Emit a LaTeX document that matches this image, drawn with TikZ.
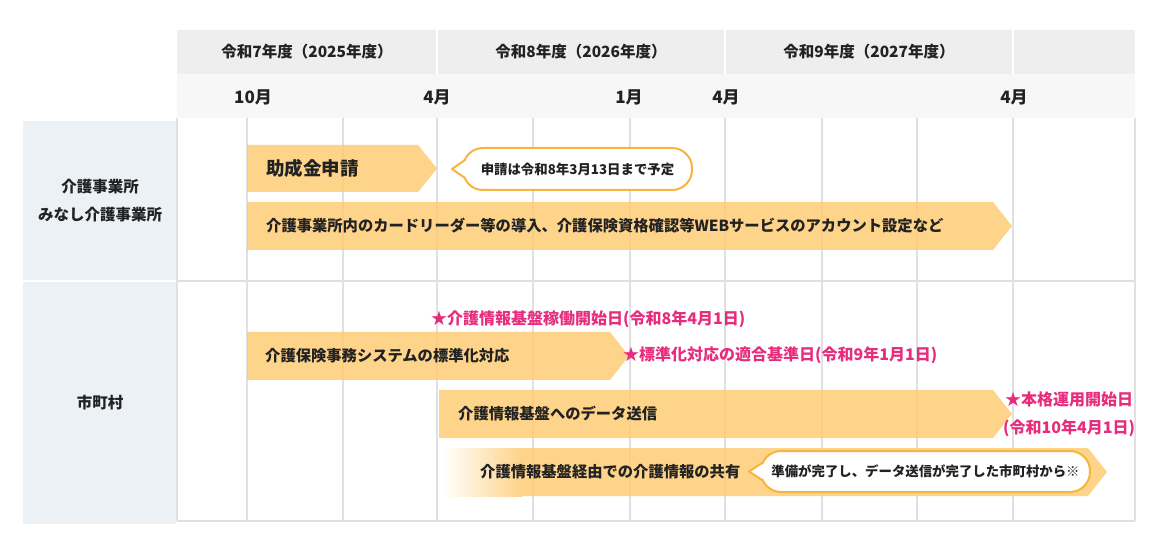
\documentclass[tikz,border=0pt]{standalone}
\usepackage{fontspec}
\setmainfont{Noto Sans CJK JP}
\usetikzlibrary{calc}
\definecolor{barfill}{RGB}{254,203,117}
\definecolor{barsolid}{RGB}{254,211,138}
\definecolor{bubbleline}{RGB}{248,180,64}
\definecolor{goalpink}{RGB}{230,45,125}
\definecolor{gridgray}{RGB}{224,224,224}
\definecolor{yearbg}{RGB}{238,238,238}
\definecolor{monthbg}{RGB}{247,247,247}
\definecolor{sidebg}{RGB}{236,241,246}
\definecolor{ink}{RGB}{34,34,34}
\begin{document}
\begin{tikzpicture}[x=1pt,y=-1pt,
    every node/.style={text=ink},
    hdr/.style={font=\bfseries\fontsize{15.5}{17}\selectfont},
    mon/.style={font=\bfseries\fontsize{17}{18}\selectfont},
    side/.style={align=center,font=\bfseries\fontsize{15.5}{28}\selectfont},
    gridline/.style={draw=gridgray,line width=1.8pt},
    bar/.style={fill=barfill,fill opacity=0.85},
    bartext/.style={anchor=west,inner sep=0pt,font=\bfseries\fontsize{15.3}{17}\selectfont},
    bubble/.style={draw=bubbleline,line width=2pt,fill=white,rounded corners=20pt,inner sep=0pt,
        font=\bfseries\fontsize{13.4}{15}\selectfont},
    goal/.style={anchor=west,inner sep=0pt,text=goalpink,font=\bfseries\fontsize{16}{18}\selectfont}]
    \useasboundingbox (0,0) rectangle (1160,553);
    % header rows
    \fill[yearbg] (177,30) rectangle (1135,74);
    \fill[monthbg] (177,74) rectangle (1135,118);
    \draw[white,line width=1.5pt] (437,30) -- (437,74) (725,30) -- (725,74) (1013,30) -- (1013,74);
    \node[hdr] (y7) at (307,52) {令和7年度（2025年度）};
    \node[hdr] (y8) at (581,52) {令和8年度（2026年度）};
    \node[hdr] (y9) at (869,52) {令和9年度（2027年度）};
    \node[mon] (m10) at (253,97) {10月};
    \node[mon] (m4a) at (437,97) {4月};
    \node[mon] (m1) at (629,97) {1月};
    \node[mon] (m4b) at (726,97) {4月};
    \node[mon] (m4c) at (1014,97) {4月};
    % side labels
    \fill[sidebg] (23,121) rectangle (176,280);
    \fill[sidebg] (23,282) rectangle (176,524);
    \node[side] (jigyo) at (100,201) {介護事業所\\みなし介護事業所};
    \node[side] (shi) at (100,403) {市町村};
    % grid
    \draw[gridline] (177,118) -- (177,521) (247,118) -- (247,521) (343,118) -- (343,521)
        (437,118) -- (437,521) (533,118) -- (533,521) (630,118) -- (630,521)
        (725,118) -- (725,521) (822,118) -- (822,521) (917,118) -- (917,521)
        (1013,118) -- (1013,521) (1135,118) -- (1135,521);
    \draw[gridline] (177,281) -- (1135,281) (177,521) -- (1135,521);
    % bars
    \fill[bar] (247,145) -- (418,145) -- (437,168.5) -- (418,192) -- (247,192) -- cycle;
    \fill[bar] (247,202) -- (993,202) -- (1012,226) -- (993,250) -- (247,250) -- cycle;
    \fill[bar] (247,332) -- (610,332) -- (629,356) -- (610,380) -- (247,380) -- cycle;
    \fill[bar] (439,390) -- (993,390) -- (1012,414) -- (993,438) -- (439,438) -- cycle;
    \shade[left color=white,right color=barsolid] (442,448) rectangle (522,496);
    \fill[bar] (522,448) -- (1088,448) -- (1107,472) -- (1088,496) -- (522,496) -- cycle;
    \node[bartext,font=\bfseries\fontsize{18.5}{20}\selectfont] (josei) at (266,168.5) {助成金申請};
    \node[bartext] (dounyu) at (266,226) {介護事業所内のカードリーダー等の導入、介護保険資格確認等WEBサービスのアカウント設定など};
    \node[bartext] (hyojun) at (265,356) {介護保険事務システムの標準化対応};
    \node[bartext] (soshin) at (458,414) {介護情報基盤へのデータ送信};
    \node[bartext] (kyoyu) at (480,472) {介護情報基盤経由での介護情報の共有};
    % bubbles
    \node[bubble,minimum width=229pt,minimum height=42pt] (memo1) at (577.5,169) {申請は令和8年3月13日まで予定};
    \fill[white] ($(memo1.west)+(3,-9)$) -- ($(memo1.west)+(-10,0)$) -- ($(memo1.west)+(3,9)$) -- cycle;
    \draw[bubbleline,line width=2pt,line join=round] ($(memo1.west)+(3,-9)$) -- ($(memo1.west)+(-10,0)$) -- ($(memo1.west)+(3,9)$);
    \node[bubble,minimum width=329pt,minimum height=41pt] (memo2) at (925.5,471.5) {準備が完了し、データ送信が完了した市町村から※};
    \fill[white] ($(memo2.west)+(3,-9)$) -- ($(memo2.west)+(-11,0)$) -- ($(memo2.west)+(3,9)$) -- cycle;
    \draw[bubbleline,line width=2pt,line join=round] ($(memo2.west)+(3,-9)$) -- ($(memo2.west)+(-11,0)$) -- ($(memo2.west)+(3,9)$);
    % milestones
    \node[goal] (kado) at (431,319) {★介護情報基盤稼働開始日(令和8年4月1日)};
    \node[goal] (tekigo) at (623,355) {★標準化対応の適合基準日(令和9年1月1日)};
    \node[goal] (honkaku) at (1005,399) {★本格運用開始日};
    \node[goal] (honkakudate) at (1003,428) {(令和10年4月1日)};
\end{tikzpicture}
\end{document}
